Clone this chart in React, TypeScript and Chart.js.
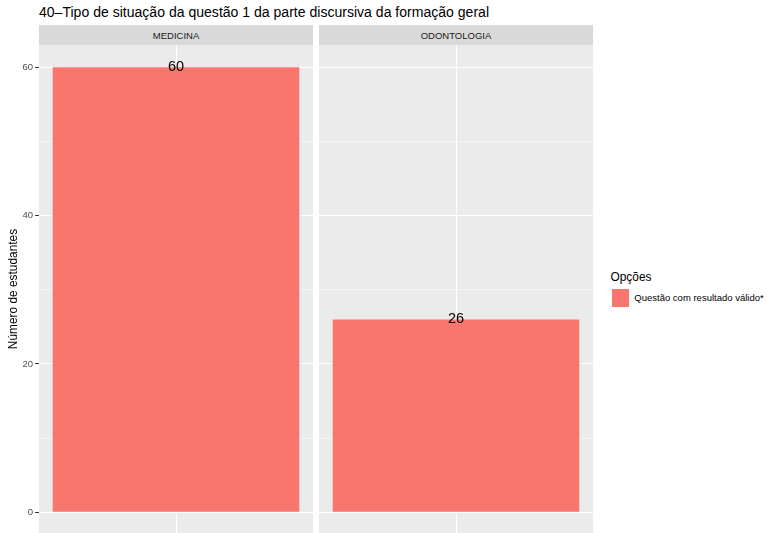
import React, { useEffect, useRef } from "react";
import { Chart, registerables } from "chart.js";

Chart.register(...registerables);

const titleText = "40–Tipo de situação da questão 1 da parte discursiva da formação geral";
const panels = ["MEDICINA", "ODONTOLOGIA"];
const values = [60, 26];
const yTicks = [0, 10, 20, 30, 40, 50, 60];
const yMajor = [0, 20, 40, 60];
const seriesName = "Questão com resultado válido*";
const legendTitle = "Opções";
const yTitle = "Número de estudantes";

const FONT = "'Liberation Sans', Arial, Helvetica, sans-serif";
const BAR = "#F8766D";
const PANEL_BG = "#EBEBEB";
const STRIP_BG = "#D9D9D9";

const Y_MIN = -2.8;
const Y_MAX = 63;

const bgPlugin = {
  id: "panelBg",
  beforeDraw(chart: any) {
    const { ctx, chartArea } = chart;
    ctx.save();
    ctx.fillStyle = PANEL_BG;
    ctx.fillRect(chartArea.left, chartArea.top, chartArea.right - chartArea.left, chartArea.bottom - chartArea.top);
    ctx.restore();
  },
};

const labelPlugin = {
  id: "barLabels",
  afterDatasetsDraw(chart: any) {
    const { ctx } = chart;
    const meta = chart.getDatasetMeta(0);
    ctx.save();
    ctx.fillStyle = "#000000";
    ctx.font = `14.5px ${FONT}`;
    ctx.textAlign = "center";
    ctx.textBaseline = "middle";
    meta.data.forEach((bar: any, i: number) => {
      const v = chart.data.datasets[0].data[i];
      ctx.fillText(String(v), bar.x, bar.y);
    });
    ctx.restore();
  },
};

function makeConfig(idx: number, showY: boolean): any {
  return {
    type: "bar",
    data: {
      labels: [panels[idx]],
      datasets: [
        {
          label: seriesName,
          data: [values[idx]],
          backgroundColor: BAR,
          borderWidth: 0,
          barPercentage: 0.9,
          categoryPercentage: 1,
        },
      ],
    },
    options: {
      animation: false,
      responsive: false,
      devicePixelRatio: 1,
      layout: { padding: { top: 45, left: 0, right: 0, bottom: 0 } },
      plugins: { legend: { display: false }, tooltip: { enabled: false }, title: { display: false } },
      scales: {
        x: {
          type: "category",
          offset: true,
          grid: { color: "#FFFFFF", lineWidth: 1, offset: false, drawTicks: false },
          border: { display: false },
          ticks: { display: false },
          afterFit: (s: any) => {
            s.height = 0;
            s.paddingLeft = 0;
            s.paddingRight = 0;
          },
        },
        y: {
          type: "linear",
          min: Y_MIN,
          max: Y_MAX,
          afterBuildTicks: (s: any) => {
            s.ticks = yTicks.map((v) => ({ value: v }));
          },
          afterFit: (s: any) => {
            s.width = showY ? 39 : 0;
            s.paddingTop = 0;
            s.paddingBottom = 0;
          },
          border: { display: false },
          grid: {
            color: "#FFFFFF",
            lineWidth: (c: any) => (yMajor.includes(c.tick?.value) ? 1 : 0.5),
            tickColor: (c: any) => (showY && yMajor.includes(c.tick?.value) ? "#333333" : "rgba(0,0,0,0)"),
            tickWidth: 1,
            tickLength: 4,
            drawTicks: showY,
          },
          ticks: {
            display: showY,
            padding: 2,
            color: "#4D4D4D",
            font: { size: 9.5, family: FONT },
            callback: (v: any) => (yMajor.includes(v) ? String(v) : ""),
          },
          title: {
            display: showY,
            text: yTitle,
            color: "#000000",
            font: { size: 11.9, family: FONT },
            padding: { top: 7, bottom: 0 },
          },
        },
      },
    },
    plugins: [bgPlugin, labelPlugin],
  };
}

function Panel({ idx, left, width, showY }: { idx: number; left: number; width: number; showY: boolean }) {
  const ref = useRef<HTMLCanvasElement | null>(null);
  useEffect(() => {
    if (!ref.current) return;
    const chart = new Chart(ref.current, makeConfig(idx, showY));
    return () => chart.destroy();
  }, [idx, showY]);
  return (
    <canvas
      ref={ref}
      width={width}
      height={533}
      style={{ position: "absolute", left, top: 0, width, height: 533 }}
    />
  );
}

export default function App() {
  Chart.defaults.font.family = FONT;
  const stripStyle = (left: number): React.CSSProperties => ({
    position: "absolute",
    left,
    top: 25,
    width: 274,
    height: 20,
    background: STRIP_BG,
    color: "#1A1A1A",
    fontSize: 9.5,
    fontFamily: FONT,
    display: "flex",
    alignItems: "center",
    justifyContent: "center",
  });
  return (
    <div
      style={{
        position: "fixed",
        left: 0,
        top: 0,
        width: 767,
        height: 533,
        overflow: "hidden",
        background: "#FFFFFF",
        fontFamily: FONT,
      }}
    >
      <div
        style={{
          position: "absolute",
          left: 39,
          top: 5,
          fontSize: 14.05,
          lineHeight: 1,
          color: "#000000",
          whiteSpace: "nowrap",
        }}
      >
        {titleText}
      </div>
      <Panel idx={0} left={0} width={313} showY={true} />
      <Panel idx={1} left={319} width={274} showY={false} />
      <div style={stripStyle(39)}>{panels[0]}</div>
      <div style={stripStyle(319)}>{panels[1]}</div>
      <div
        style={{
          position: "absolute",
          left: 610.5,
          top: 272,
          fontSize: 11.9,
          lineHeight: 1,
          color: "#000000",
          whiteSpace: "nowrap",
        }}
      >
        {legendTitle}
      </div>
      <div
        style={{
          position: "absolute",
          left: 611.7,
          top: 289.3,
          width: 17.3,
          height: 17.3,
          background: BAR,
        }}
      />
      <div
        style={{
          position: "absolute",
          left: 634.3,
          top: 289.3,
          height: 17.3,
          display: "flex",
          alignItems: "center",
          fontSize: 9.5,
          color: "#000000",
          whiteSpace: "nowrap",
        }}
      >
        {seriesName}
      </div>
    </div>
  );
}
